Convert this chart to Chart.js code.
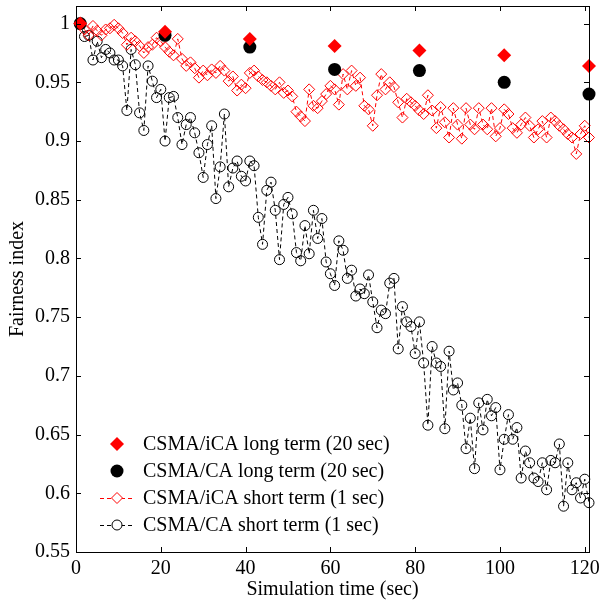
<!DOCTYPE html>
<html>
<head>
<meta charset="utf-8">
<script src="https://cdn.jsdelivr.net/npm/chart.js@4.4.0/dist/chart.umd.min.js"></script>
<style>
  html, body { margin: 0; padding: 0; background: #fff; }
  #wrap { width: 600px; height: 606px; }
</style>
</head>
<body>
<div id="wrap"><canvas id="myChart" width="600" height="606"></canvas></div>
<script>
// long term samples (every 20 sec)
const longTime = [1, 21, 41, 61, 81, 101, 121];
const longICA = [1.000, 0.993, 0.987, 0.981, 0.977, 0.973, 0.964];
const longCA = [1.000, 0.990, 0.980, 0.961, 0.960, 0.950, 0.940];

// short term samples (every 1 sec)
const shortTime = [
  1, 2, 3, 4, 5, 6, 7, 8, 9, 10, 11, 12, 13, 14, 15, 16, 17, 18, 19, 20,
  21, 22, 23, 24, 25, 26, 27, 28, 29, 30, 31, 32, 33, 34, 35, 36, 37, 38, 39, 40,
  41, 42, 43, 44, 45, 46, 47, 48, 49, 50, 51, 52, 53, 54, 55, 56, 57, 58, 59, 60,
  61, 62, 63, 64, 65, 66, 67, 68, 69, 70, 71, 72, 73, 74, 75, 76, 77, 78, 79, 80,
  81, 82, 83, 84, 85, 86, 87, 88, 89, 90, 91, 92, 93, 94, 95, 96, 97, 98, 99, 100,
  101, 102, 103, 104, 105, 106, 107, 108, 109, 110, 111, 112, 113, 114, 115, 116, 117, 118, 119, 120,
  121
];
const shortICA = [
  1.000, 0.995, 0.990, 0.998, 0.994, 0.990, 0.995, 0.996, 0.999, 0.996,
  0.992, 0.982, 0.988, 0.985, 0.981, 0.975, 0.980, 0.982, 0.988, 0.985,
  0.980, 0.976, 0.973, 0.987, 0.970, 0.964, 0.967, 0.962, 0.954, 0.960,
  0.956, 0.961, 0.958, 0.964, 0.960, 0.951, 0.955, 0.943, 0.948, 0.945,
  0.958, 0.960, 0.955, 0.952, 0.950, 0.947, 0.944, 0.950, 0.941, 0.943,
  0.938, 0.925, 0.921, 0.917, 0.944, 0.930, 0.928, 0.934, 0.940, 0.947,
  0.944, 0.931, 0.957, 0.944, 0.960, 0.947, 0.954, 0.930, 0.927, 0.913,
  0.939, 0.957, 0.944, 0.950, 0.946, 0.933, 0.920, 0.936, 0.933, 0.930,
  0.926, 0.923, 0.939, 0.926, 0.911, 0.929, 0.916, 0.903, 0.928, 0.914,
  0.902, 0.928, 0.914, 0.910, 0.928, 0.914, 0.910, 0.928, 0.904, 0.911,
  0.927, 0.923, 0.911, 0.907, 0.914, 0.920, 0.913, 0.903, 0.910, 0.917,
  0.903, 0.920, 0.917, 0.913, 0.910, 0.906, 0.903, 0.889, 0.906, 0.913,
  0.903
];
const shortCA = [
  1.000, 0.989, 0.990, 0.969, 0.985, 0.971, 0.978, 0.975, 0.969, 0.969,
  0.964, 0.926, 0.978, 0.965, 0.924, 0.909, 0.964, 0.951, 0.937, 0.944,
  0.900, 0.937, 0.938, 0.920, 0.897, 0.914, 0.920, 0.907, 0.890, 0.869,
  0.897, 0.913, 0.851, 0.878, 0.923, 0.861, 0.877, 0.883, 0.870, 0.866,
  0.883, 0.879, 0.835, 0.812, 0.858, 0.865, 0.841, 0.799, 0.846, 0.852,
  0.838, 0.805, 0.798, 0.828, 0.804, 0.841, 0.817, 0.834, 0.797, 0.787,
  0.777, 0.815, 0.807, 0.783, 0.790, 0.768, 0.774, 0.770, 0.786, 0.763,
  0.741, 0.756, 0.753, 0.779, 0.783, 0.723, 0.759, 0.746, 0.742, 0.719,
  0.746, 0.711, 0.658, 0.725, 0.711, 0.708, 0.655, 0.721, 0.688, 0.694,
  0.675, 0.638, 0.664, 0.621, 0.677, 0.654, 0.680, 0.666, 0.673, 0.620,
  0.646, 0.667, 0.646, 0.656, 0.613, 0.636, 0.626, 0.613, 0.610, 0.626,
  0.603, 0.628, 0.626, 0.642, 0.589, 0.626, 0.603, 0.609, 0.596, 0.612,
  0.592
];

const xTicks = [0, 20, 40, 60, 80, 100, 120];
const yTicks = [0.55, 0.6, 0.65, 0.7, 0.75, 0.8, 0.85, 0.9, 0.95, 1];

const legendLabels = [
  "CSMA/iCA long term (20 sec)",
  "CSMA/CA long term (20 sec)",
  "CSMA/iCA short term (1 sec)",
  "CSMA/CA short term (1 sec)"
];

const FONT = "'Liberation Serif', 'Times New Roman', serif";
Chart.defaults.font.family = FONT;
Chart.defaults.font.size = 20;
Chart.defaults.color = '#000';

function pts(xs, ys) {
  return xs.map((x, i) => ({ x: x, y: ys[i] }));
}

function keepTicks(list) {
  return function (scale) {
    scale.ticks = list.map(v => ({ value: v }));
  };
}

// fixed axis size, and no extra padding for the end labels
function fixSize(prop, size) {
  return function (s) {
    s[prop] = size;
    s.paddingTop = 0; s.paddingBottom = 0;
    s.paddingLeft = 0; s.paddingRight = 0;
  };
}

// box, inward ticks and the legend
const boxPlugin = {
  id: 'box',
  afterDatasetsDraw(chart) {
    const { ctx, chartArea: a, scales: { x, y } } = chart;
    ctx.save();
    ctx.strokeStyle = '#000';
    ctx.lineWidth = 1;
    ctx.setLineDash([]);
    ctx.strokeRect(a.left + 0.5, a.top + 0.5, a.right - a.left, a.bottom - a.top);
    ctx.beginPath();
    xTicks.forEach(v => {
      const px = Math.round(x.getPixelForValue(v)) + 0.5;
      ctx.moveTo(px, a.bottom); ctx.lineTo(px, a.bottom - 5);
      ctx.moveTo(px, a.top); ctx.lineTo(px, a.top + 5);
    });
    yTicks.forEach(v => {
      const py = Math.round(y.getPixelForValue(v)) + 0.5;
      ctx.moveTo(a.left, py); ctx.lineTo(a.left + 5, py);
      ctx.moveTo(a.right, py); ctx.lineTo(a.right - 5, py);
    });
    ctx.stroke();

    // legend
    const mx = 117, tx = 143;
    const rows = [444, 471, 498, 525];
    ctx.font = '20px ' + FONT;
    ctx.textBaseline = 'middle';
    ctx.fillStyle = '#000';
    legendLabels.forEach((t, i) => ctx.fillText(t, tx, rows[i] + 1));

    // filled diamond
    ctx.fillStyle = '#ff0000';
    ctx.beginPath();
    ctx.moveTo(mx, rows[0] - 7); ctx.lineTo(mx + 7, rows[0]);
    ctx.lineTo(mx, rows[0] + 7); ctx.lineTo(mx - 7, rows[0]);
    ctx.closePath(); ctx.fill();
    // filled circle
    ctx.fillStyle = '#000';
    ctx.beginPath(); ctx.arc(mx, rows[1], 6.5, 0, Math.PI * 2); ctx.fill();
    // dashed red + hollow diamond
    ctx.setLineDash([4, 3]);
    ctx.strokeStyle = '#ff0000';
    ctx.beginPath(); ctx.moveTo(100, rows[2] + 0.5); ctx.lineTo(135, rows[2] + 0.5); ctx.stroke();
    ctx.strokeStyle = '#000';
    ctx.beginPath(); ctx.moveTo(100, rows[3] + 0.5); ctx.lineTo(135, rows[3] + 0.5); ctx.stroke();
    ctx.setLineDash([]);
    ctx.fillStyle = '#fff';
    ctx.strokeStyle = '#ff0000';
    ctx.beginPath();
    ctx.moveTo(mx, rows[2] - 5.5); ctx.lineTo(mx + 5.5, rows[2]);
    ctx.lineTo(mx, rows[2] + 5.5); ctx.lineTo(mx - 5.5, rows[2]);
    ctx.closePath(); ctx.fill(); ctx.stroke();
    ctx.strokeStyle = '#000';
    ctx.beginPath(); ctx.arc(mx, rows[3], 5, 0, Math.PI * 2); ctx.fill(); ctx.stroke();
    ctx.restore();
  }
};

const data = {
  datasets: [
    {
      label: legendLabels[0],
      data: pts(longTime, longICA),
      showLine: false,
      pointStyle: 'rectRot',
      pointRadius: 7,
      pointBackgroundColor: '#ff0000',
      pointBorderColor: '#ff0000',
      pointBorderWidth: 0,
      order: 0
    },
    {
      label: legendLabels[1],
      data: pts(longTime, longCA),
      showLine: false,
      pointStyle: 'circle',
      pointRadius: 6.5,
      pointBackgroundColor: '#000',
      pointBorderColor: '#000',
      pointBorderWidth: 0,
      order: 1
    },
    {
      label: legendLabels[2],
      data: pts(shortTime, shortICA),
      showLine: true,
      borderColor: '#ff0000',
      borderWidth: 1,
      borderDash: [4, 3],
      pointStyle: 'rectRot',
      pointRadius: 5.5,
      pointBackgroundColor: 'rgba(0,0,0,0)',
      pointBorderColor: '#ff0000',
      pointBorderWidth: 1,
      order: 2
    },
    {
      label: legendLabels[3],
      data: pts(shortTime, shortCA),
      showLine: true,
      borderColor: '#000',
      borderWidth: 1,
      borderDash: [4, 3],
      pointStyle: 'circle',
      pointRadius: 5,
      pointBackgroundColor: 'rgba(0,0,0,0)',
      pointBorderColor: '#000',
      pointBorderWidth: 1,
      order: 3
    }
  ]
};

const config = {
  type: 'scatter',
  data,
  options: {
    responsive: false,
    animation: false,
    devicePixelRatio: 1,
    clip: false,
    layout: { autoPadding: false, padding: { top: 6, right: 11, left: 0, bottom: 0 } },
    plugins: { legend: { display: false }, tooltip: { enabled: false } },
    scales: {
      x: {
        type: 'linear',
        min: 0,
        max: 121,
        afterBuildTicks: keepTicks(xTicks),
        afterFit: fixSize('height', 54),
        grid: { display: false, drawTicks: false },
        border: { display: false },
        ticks: { padding: 5, maxRotation: 0, font: { size: 20 }, callback: v => String(v) },
        title: { display: true, text: 'Simulation time (sec)', font: { size: 20 }, padding: { top: 0, bottom: 4 } }
      },
      y: {
        type: 'linear',
        min: 0.55,
        max: 1.015,
        afterBuildTicks: keepTicks(yTicks),
        afterFit: fixSize('width', 76),
        grid: { display: false, drawTicks: false },
        border: { display: false },
        ticks: { padding: 6, font: { size: 20 }, callback: v => String(parseFloat(v.toFixed(2))) },
        title: { display: true, text: 'Fairness index', font: { size: 20 }, padding: { top: 6, bottom: 0 } }
      }
    }
  },
  plugins: [boxPlugin]
};

var myChart = new Chart(document.getElementById('myChart'), config);
</script>
</body>
</html>
